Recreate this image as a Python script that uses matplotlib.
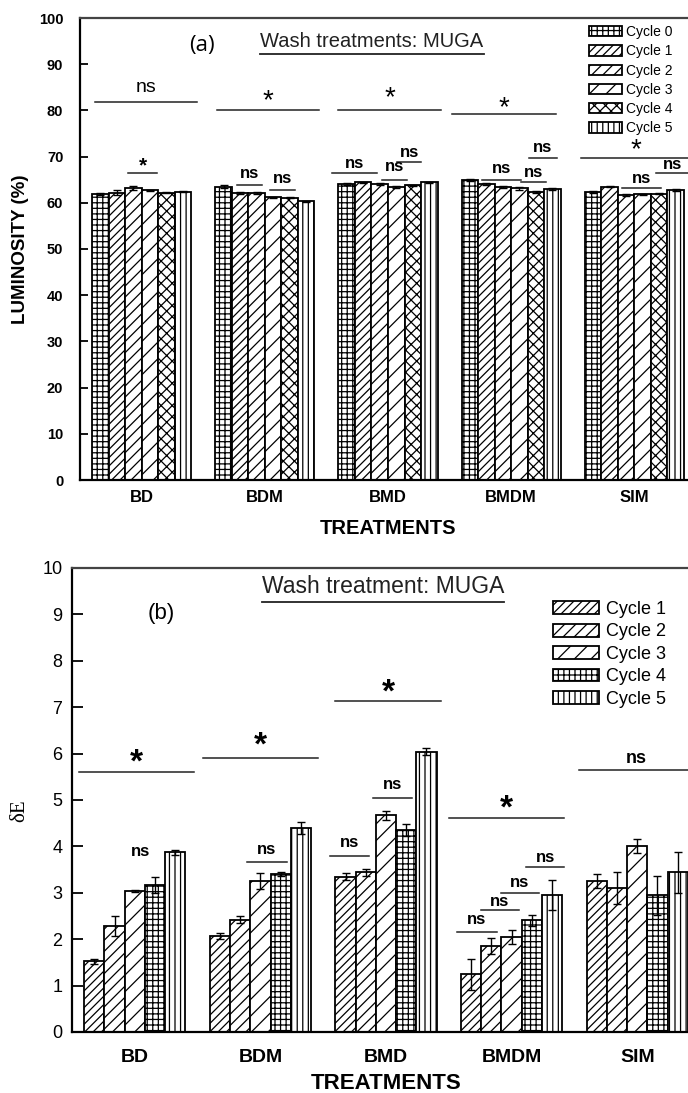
import numpy as np
import matplotlib
matplotlib.use("Agg")
import matplotlib.pyplot as plt

plt.rcParams['font.family'] = ['Liberation Sans', 'DejaVu Sans']
plt.rcParams['hatch.linewidth'] = 0.9
plt.rcParams['hatch.color'] = 'black'

treatments = ["BD", "BDM", "BMD", "BMDM", "SIM"]

# (a) Luminosity (%) per wash cycle
lum_labels = ["Cycle 0", "Cycle 1", "Cycle 2", "Cycle 3", "Cycle 4", "Cycle 5"]
lum_c0 = [61.9, 63.5, 64.0, 64.9, 62.4]
lum_c1 = [62.2, 62.1, 64.4, 64.0, 63.5]
lum_c2 = [63.2, 62.1, 64.1, 63.4, 61.7]
lum_c3 = [62.7, 61.2, 63.5, 63.1, 61.8]
lum_c4 = [62.2, 61.1, 63.8, 62.4, 62.0]
lum_c5 = [62.4, 60.3, 64.4, 63.0, 62.8]
lum_e0 = [0.15, 0.3, 0.2, 0.2, 0.2]
lum_e1 = [0.5, 0.15, 0.15, 0.2, 0.15]
lum_e2 = [0.4, 0.2, 0.2, 0.3, 0.15]
lum_e3 = [0.15, 0.1, 0.2, 0.3, 0.15]
lum_e4 = [0.1, 0.1, 0.15, 0.2, 0.15]
lum_e5 = [0.15, 0.1, 0.15, 0.25, 0.15]
lum_hatches = ['+++', '////', '///', '//', 'xxx', '|||']

# (b) Colour difference dE per wash cycle
de_labels = ["Cycle 1", "Cycle 2", "Cycle 3", "Cycle 4", "Cycle 5"]
de_c1 = [1.52, 2.07, 3.35, 1.24, 3.25]
de_c2 = [2.28, 2.42, 3.44, 1.86, 3.10]
de_c3 = [3.04, 3.25, 4.67, 2.05, 4.01]
de_c4 = [3.17, 3.40, 4.35, 2.41, 2.95]
de_c5 = [3.87, 4.40, 6.04, 2.95, 3.44]
de_e1 = [0.05, 0.06, 0.08, 0.33, 0.15]
de_e2 = [0.22, 0.07, 0.07, 0.17, 0.35]
de_e3 = [0.03, 0.17, 0.10, 0.15, 0.15]
de_e4 = [0.17, 0.04, 0.13, 0.12, 0.42]
de_e5 = [0.05, 0.13, 0.08, 0.33, 0.44]
de_hatches = ['////', '///', '//', '+++', '|||']

# significance marks: (group, dx start, dx end, line y, text, text y, size, weight)
lum_sig = [
    (0, -0.378, 0.45, 81.8, "ns", 85.0, 14, 'normal'),
    (1, -0.387, 0.44, 80.1, "*", 82.0, 20, 'normal'),
    (2, -0.406, 0.43, 80.1, "*", 82.6, 20, 'normal'),
    (3, -0.48, 0.36, 79.2, "*", 80.4, 20, 'normal'),
    (4, -0.433, 0.55, 69.7, "*", 71.4, 20, 'normal'),
    (0, -0.11, 0.125, 66.5, "*", 68.0, 15, 'bold'),
    (1, -0.226, -0.023, 63.9, "ns", 66.4, 12, 'bold'),
    (1, 0.042, 0.245, 62.8, "ns", 65.3, 12, 'bold'),
    (2, -0.455, -0.089, 66.4, "ns", 68.5, 12, 'bold'),
    (2, -0.049, 0.154, 65.0, "ns", 67.9, 12, 'bold'),
    (2, 0.073, 0.268, 68.8, "ns", 70.9, 12, 'bold'),
    (3, -0.237, 0.08, 65.0, "ns", 67.4, 12, 'bold'),
    (3, 0.08, 0.282, 64.6, "ns", 66.5, 12, 'bold'),
    (3, 0.144, 0.372, 69.7, "ns", 72.0, 12, 'bold'),
    (4, -0.101, 0.216, 63.3, "ns", 65.3, 12, 'bold'),
    (4, 0.175, 0.55, 66.4, "ns", 68.3, 12, 'bold'),
]
de_sig = [
    (0, -0.444, 0.472, 5.60, "*", 5.80, 24, 'bold'),
    (1, -0.457, 0.459, 5.90, "*", 6.16, 24, 'bold'),
    (2, -0.406, 0.438, 7.13, "*", 7.31, 24, 'bold'),
    (3, -0.498, 0.417, 4.62, "*", 4.80, 24, 'bold'),
    (4, -0.463, 0.55, 5.65, "ns", 5.89, 13, 'bold'),
    (0, None, 0.042, None, "ns", 3.89, 12, 'bold'),
    (1, -0.107, 0.211, 3.67, "ns", 3.94, 12, 'bold'),
    (2, -0.446, -0.135, 3.79, "ns", 4.08, 12, 'bold'),
    (2, -0.104, 0.207, 5.04, "ns", 5.33, 12, 'bold'),
    (3, -0.435, -0.117, 2.16, "ns", 2.43, 12, 'bold'),
    (3, -0.244, 0.059, 2.63, "ns", 2.82, 12, 'bold'),
    (3, -0.085, 0.218, 2.99, "ns", 3.22, 12, 'bold'),
    (3, 0.115, 0.417, 3.56, "ns", 3.77, 12, 'bold'),
]

W, H, DPI = 688, 1093, 100
fig = plt.figure(figsize=(W / DPI, H / DPI), dpi=DPI)


def px_axes(left, top, right, bottom):
    return fig.add_axes([left / W, 1 - bottom / H, (right - left) / W, (bottom - top) / H])


def grouped_bars(ax, series, errors, hatches, labels, width):
    x = np.arange(len(treatments))
    n = len(series)
    for i, (vals, err, h, lab) in enumerate(zip(series, errors, hatches, labels)):
        pos = x + (i - (n - 1) / 2) * width
        ax.bar(pos, vals, width, color='white', edgecolor='black', linewidth=1.3,
               hatch=h, label=lab, zorder=2)
        ax.errorbar(pos, vals, yerr=err, fmt='none', ecolor='black', elinewidth=1.0,
                    capsize=3, capthick=1.0, zorder=3)


def add_sig(ax, marks):
    for g, d0, d1, yl, txt, yt, fs, fw in marks:
        if yl is not None:
            ax.plot([g + d0, g + d1], [yl, yl], color='#222222', lw=1.1, zorder=4,
                    clip_on=False)
            xc = g + (d0 + min(d1, 0.45)) / 2 if d1 > 0.5 else g + (d0 + d1) / 2
        else:
            xc = g + d1
        ax.text(xc, yt, txt, ha='center', va='center', fontsize=fs, fontweight=fw,
                zorder=5)


def underline(t, gap_px, lw):
    fig.canvas.draw()
    bb = t.get_window_extent()
    y = bb.y0 - gap_px
    fig.add_artist(plt.Line2D([bb.x0 / W, bb.x1 / W], [y / H, y / H],
                              transform=fig.transFigure, color='#222222', lw=lw))


# ---------------- panel (a) ----------------
ax1 = px_axes(80, 18, 696, 480)
grouped_bars(ax1, [lum_c0, lum_c1, lum_c2, lum_c3, lum_c4, lum_c5],
             [lum_e0, lum_e1, lum_e2, lum_e3, lum_e4, lum_e5],
             lum_hatches, lum_labels, 0.134)
ax1.set_xlim(-0.5, 4.5)
ax1.set_ylim(0, 100)
ax1.set_yticks(np.arange(0, 101, 10))
ax1.set_xticks(np.arange(len(treatments)))
ax1.set_xticklabels(treatments, fontsize=12, fontweight='bold')
ax1.tick_params(axis='y', direction='in', length=6, width=1.3, pad=12, labelsize=10.5)
ax1.tick_params(axis='x', length=0, pad=7)
for lab in ax1.get_yticklabels():
    lab.set_fontweight('bold')
for s in ['left', 'bottom', 'top']:
    ax1.spines[s].set_linewidth(1.6)
ax1.spines['top'].set_color('#444444')
ax1.set_ylabel("LUMINOSITY (%)", fontsize=13.5, fontweight='bold', va='center')
ax1.yaxis.set_label_coords(-0.097, 0.5)
ax1.set_xlabel("TREATMENTS", fontsize=14.5, fontweight='bold', va='center')
ax1.xaxis.set_label_coords(0.5, -0.104)
add_sig(ax1, lum_sig)
ax1.legend(loc='upper left', bbox_to_anchor=(589 / W, 1 - 25 / H),
           bbox_transform=fig.transFigure, frameon=False, fontsize=10,
           handlelength=2.35, handleheight=0.75, handletextpad=0.35,
           labelspacing=0.38, borderpad=0, borderaxespad=0)

t1 = fig.text(372 / W, 1 - 47 / H, "Wash treatments: MUGA", ha='center', va='baseline',
              fontsize=14.5, color='#222222')
fig.text(202 / W, 1 - 45 / H, "(a)", ha='center', va='center', fontsize=16,
         family=['Open Sans', 'DejaVu Sans'])

# ---------------- panel (b) ----------------
ax2 = px_axes(72, 568, 700, 1032)
grouped_bars(ax2, [de_c1, de_c2, de_c3, de_c4, de_c5],
             [de_e1, de_e2, de_e3, de_e4, de_e5],
             de_hatches, de_labels, 0.161)
ax2.set_xlim(-0.5, 4.5)
ax2.set_ylim(0, 10)
ax2.set_yticks(np.arange(0, 11, 1))
ax2.set_xticks(np.arange(len(treatments)))
ax2.set_xticklabels(treatments, fontsize=14, fontweight='bold')
ax2.tick_params(axis='y', direction='in', length=8, width=1.3, pad=7, labelsize=13)
ax2.tick_params(axis='x', length=0, pad=12)
for s in ['left', 'bottom', 'top']:
    ax2.spines[s].set_linewidth(1.6)
ax2.spines['top'].set_color('#444444')
ax2.set_ylabel("δE", fontsize=15, family=['Liberation Serif', 'DejaVu Serif'],
               va='center')
ax2.yaxis.set_label_coords(-0.083, 0.478)
ax2.set_xlabel("TREATMENTS", fontsize=16, fontweight='bold', va='center')
ax2.xaxis.set_label_coords(0.5, -0.111)
add_sig(ax2, de_sig)
ax2.legend(loc='upper left', bbox_to_anchor=(553 / W, 1 - 601 / H),
           bbox_transform=fig.transFigure, frameon=False, fontsize=13,
           handlelength=2.55, handleheight=0.72, handletextpad=0.4,
           labelspacing=0.3, borderpad=0, borderaxespad=0)

t2 = fig.text(383 / W, 1 - 593 / H, "Wash treatment: MUGA", ha='center', va='baseline',
              fontsize=16.5, color='#222222')
fig.text(161 / W, 1 - 614 / H, "(b)", ha='center', va='center', fontsize=16)

underline(t1, 3, 1.3)
underline(t2, 4, 1.3)

fig.savefig("out.png", dpi=DPI)
